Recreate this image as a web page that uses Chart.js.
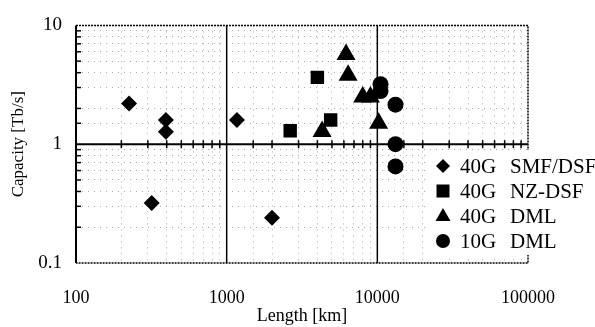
<!DOCTYPE html>
<html>
<head>
<meta charset="utf-8">
<script src="https://cdn.jsdelivr.net/npm/chart.js@4.4.1/dist/chart.umd.min.js"></script>
<style>
  html, body { margin: 0; padding: 0; background: #fff; }
  #wrap { width: 595px; height: 327px; position: relative; }
</style>
</head>
<body>
<div id="wrap"><canvas id="chart"></canvas></div>
<script>
// Series (length in km, capacity in Tb/s)
const smfDsfLength   = [225, 395, 395, 1170, 318, 2000];
const smfDsfCapacity = [2.2, 1.6, 1.27, 1.6, 0.32, 0.24];

const nzDsfLength   = [2640, 4000, 4900];
const nzDsfCapacity = [1.3, 3.65, 1.6];

const dml40Length   = [6200, 6400, 8000, 9000, 10200, 4300];
const dml40Capacity = [5.7, 3.8, 2.5, 2.5, 1.5, 1.28];

const dml10Length   = [10500, 10500, 13200, 13200, 13200];
const dml10Capacity = [3.2, 2.8, 2.15, 1.0, 0.65];

const seriesLabels = ['40G  SMF/DSF', '40G  NZ-DSF', '40G  DML', '10G  DML'];
const seriesStyles = ['rectRot', 'rect', 'triangle', 'circle'];

const xTickLabels = [100, 1000, 10000, 100000];
const yTickLabels = [0.1, 1, 10];

const SERIF = '"Liberation Serif", "Times New Roman", serif';

function toPoints(xs, ys) {
    return xs.map((x, i) => ({ x: x, y: ys[i] }));
}

function isDecade(v) {
    const l = Math.log10(v);
    return Math.abs(l - Math.round(l)) < 1e-6;
}

// Frame, solid decade lines, small tick marks
const framePlugin = {
    id: 'frame',
    beforeDatasetsDraw(chart) {
        const ctx = chart.ctx;
        const a = chart.chartArea;
        const xs = chart.scales.x, ys = chart.scales.y;
        ctx.save();
        ctx.strokeStyle = '#000';

        // dotted outer frame (top, right, bottom)
        ctx.setLineDash([2, 1]);
        ctx.lineWidth = 1.5;
        ctx.beginPath();
        ctx.moveTo(a.left, a.top); ctx.lineTo(a.right, a.top);
        ctx.lineTo(a.right, a.bottom); ctx.lineTo(a.left, a.bottom);
        ctx.stroke();
        ctx.setLineDash([]);

        // solid left edge
        ctx.lineWidth = 2;
        ctx.beginPath();
        ctx.moveTo(a.left, a.top); ctx.lineTo(a.left, a.bottom);
        ctx.stroke();

        // solid decade lines
        ctx.lineWidth = 1.5;
        [1000, 10000].forEach(v => {
            const px = xs.getPixelForValue(v);
            ctx.beginPath(); ctx.moveTo(px, a.top); ctx.lineTo(px, a.bottom); ctx.stroke();
        });
        const y1 = ys.getPixelForValue(1);
        ctx.lineWidth = 2;
        ctx.beginPath(); ctx.moveTo(a.left, y1); ctx.lineTo(a.right, y1); ctx.stroke();

        // tick marks on left edge and on the y=1 line
        ctx.lineWidth = 1.5;
        ys.ticks.forEach(t => {
            if (isDecade(t.value)) return;
            const py = ys.getPixelForValue(t.value);
            ctx.beginPath(); ctx.moveTo(a.left, py); ctx.lineTo(a.left + 5, py); ctx.stroke();
        });
        xs.ticks.forEach(t => {
            if (isDecade(t.value)) return;
            const px = xs.getPixelForValue(t.value);
            ctx.beginPath(); ctx.moveTo(px, y1 - 4); ctx.lineTo(px, y1 + 4); ctx.stroke();
        });
        ctx.restore();
    }
};

// Legend box drawn over the lower right corner
const legendPlugin = {
    id: 'boxLegend',
    afterDraw(chart) {
        const ctx = chart.ctx;
        ctx.save();
        ctx.fillStyle = '#fff';
        ctx.fillRect(430, 150, 165, 105);
        ctx.fillStyle = '#000';
        const mx = 443;
        const rows = [166, 191, 216, 241];
        rows.forEach((ry, i) => {
            ctx.beginPath();
            if (seriesStyles[i] === 'rectRot') {
                ctx.moveTo(mx, ry - 7); ctx.lineTo(mx + 7, ry);
                ctx.lineTo(mx, ry + 7); ctx.lineTo(mx - 7, ry);
            } else if (seriesStyles[i] === 'rect') {
                ctx.rect(mx - 6.5, ry - 6.5, 13, 13);
            } else if (seriesStyles[i] === 'triangle') {
                ctx.moveTo(mx, ry - 8); ctx.lineTo(mx + 7.5, ry + 5);
                ctx.lineTo(mx - 7.5, ry + 5);
            } else {
                ctx.arc(mx, ry, 7, 0, Math.PI * 2);
            }
            ctx.closePath();
            ctx.fill();
            const parts = seriesLabels[i].split('  ');
            ctx.font = '21px ' + SERIF;
            ctx.textBaseline = 'middle';
            ctx.textAlign = 'left';
            ctx.fillText(parts[0], 460, ry + 1);
            ctx.fillText(parts[1], 510, ry + 1);
        });
        ctx.restore();
    }
};

const baseSet = {
    backgroundColor: '#000',
    borderColor: '#000',
    borderWidth: 0,
    showLine: false
};

new Chart(document.getElementById('chart').getContext('2d'), {
    type: 'scatter',
    data: {
        datasets: [
            Object.assign({}, baseSet, { label: seriesLabels[0], data: toPoints(smfDsfLength, smfDsfCapacity), pointStyle: 'rectRot', pointRadius: 8 }),
            Object.assign({}, baseSet, { label: seriesLabels[1], data: toPoints(nzDsfLength, nzDsfCapacity), pointStyle: 'rect', pointRadius: 9.5 }),
            Object.assign({}, baseSet, { label: seriesLabels[2], data: toPoints(dml40Length, dml40Capacity), pointStyle: 'triangle', pointRadius: 11 }),
            Object.assign({}, baseSet, { label: seriesLabels[3], data: toPoints(dml10Length, dml10Capacity), pointStyle: 'circle', pointRadius: 8 })
        ]
    },
    options: {
        responsive: true,
        maintainAspectRatio: false,
        animation: false,
        layout: { padding: { top: 15, right: 67, left: 0, bottom: 0 } },
        plugins: {
            legend: { display: false },
            tooltip: { enabled: false }
        },
        scales: {
            x: {
                type: 'logarithmic',
                min: 100,
                max: 100000,
                afterFit: function(scale) { scale.height = 64; },
                grid: {
                    color: ctx => (ctx.tick && isDecade(ctx.tick.value)) ? 'rgba(0,0,0,0)' : '#a8a8a8',
                    lineWidth: 1,
                    drawTicks: false
                },
                border: { display: false, dash: [1, 5] },
                ticks: {
                    autoSkip: false,
                    maxRotation: 0,
                    padding: 24,
                    color: '#000',
                    font: { family: SERIF, size: 18 },
                    callback: v => xTickLabels.includes(v) ? String(v) : ''
                },
                title: {
                    display: true,
                    text: 'Length [km]',
                    color: '#000',
                    font: { family: SERIF, size: 18 },
                    padding: { top: 0, bottom: 0 }
                }
            },
            y: {
                type: 'logarithmic',
                min: 0.1,
                max: 10,
                afterFit: function(scale) { scale.width = 76; },
                grid: {
                    color: ctx => (ctx.tick && isDecade(ctx.tick.value)) ? 'rgba(0,0,0,0)' : '#a8a8a8',
                    lineWidth: 1,
                    drawTicks: false
                },
                border: { display: false, dash: [1, 5] },
                ticks: {
                    autoSkip: false,
                    padding: 14,
                    color: '#000',
                    font: { family: SERIF, size: 19 },
                    callback: v => yTickLabels.some(t => Math.abs(t - v) < 1e-9) ? String(v) : ''
                },
                title: {
                    display: true,
                    text: 'Capacity [Tb/s]',
                    color: '#000',
                    font: { family: SERIF, size: 17 },
                    padding: { top: 8, bottom: 0 }
                }
            }
        }
    },
    plugins: [framePlugin, legendPlugin]
});
</script>
</body>
</html>
